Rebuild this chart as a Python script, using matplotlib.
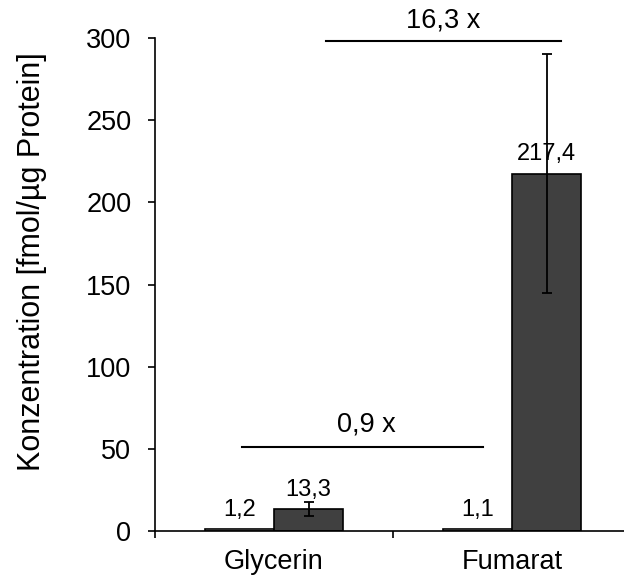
import matplotlib.pyplot as plt
import numpy as np

plt.rcParams["font.family"] = ["Liberation Sans", "DejaVu Sans"]

# data
categories = ["Glycerin", "Fumarat"]
control = [1.2, 1.1]
treated = [13.3, 217.4]
treated_err = [4.3, 72.6]
yticks = [0, 50, 100, 150, 200, 250, 300]

# fold-change brackets: (x start, x end, y line, text x, text y, label)
fold_labels = ["16,3 x", "0,9 x"]
fold_x0 = [0.22, -0.135]
fold_x1 = [1.205, 0.88]
fold_y = [298, 51]
fold_tx = [0.71, 0.39]
fold_ty = [303, 57]


def fmt(v):
    return f"{v:.1f}".replace(".", ",")


fig = plt.figure(figsize=(6.24, 5.83), dpi=100)
ax = fig.add_axes([0.2484, 0.0892, 0.7628, 0.8456])

x = np.arange(len(categories))
w = 0.29

ax.bar(x - w / 2, control, w, color="white", edgecolor="black", linewidth=1.2, zorder=2)
ax.bar(x + w / 2, treated, w, color="#404040", edgecolor="black", linewidth=1.2, zorder=2)
ax.errorbar(x + w / 2, treated, yerr=treated_err, fmt="none", ecolor="black",
            elinewidth=1.3, capsize=3.3, capthick=1.3, zorder=3)

for xi, v in zip(x - w / 2, control):
    ax.annotate(fmt(v), (xi, v), xytext=(0, 6), textcoords="offset points",
                ha="center", va="bottom", fontsize=17)
for xi, v in zip(x + w / 2, treated):
    ax.annotate(fmt(v), (xi, v), xytext=(0, 6), textcoords="offset points",
                ha="center", va="bottom", fontsize=17)

for lab, a, b, yy, tx, ty in zip(fold_labels, fold_x0, fold_x1, fold_y, fold_tx, fold_ty):
    ax.plot([a, b], [yy, yy], color="black", lw=1.5, clip_on=False)
    ax.text(tx, ty, lab, ha="center", va="bottom", fontsize=19.5)

ax.set_xlim(-0.5, 1.5)
ax.set_ylim(0, 300)
ax.set_yticks(yticks)
ax.tick_params(axis="y", direction="out", length=5, width=1.2, labelsize=19.5, pad=12)

ax.set_xticks([-0.5, 0.5, 1.5])
ax.set_xticklabels([])
ax.set_xticks(x, minor=True)
ax.set_xticklabels(categories, minor=True)
ax.tick_params(axis="x", which="major", direction="out", length=5, width=1.2)
ax.tick_params(axis="x", which="minor", length=0, labelsize=19.5, pad=13)

ax.spines["top"].set_visible(False)
ax.spines["right"].set_visible(False)
ax.spines["left"].set_linewidth(1.2)
ax.spines["bottom"].set_linewidth(1.2)

ax.set_ylabel("Konzentration [fmol/µg Protein]", fontsize=22)
ax.yaxis.set_label_coords(-0.227, 0.546)

fig.savefig("out.png", dpi=100)
